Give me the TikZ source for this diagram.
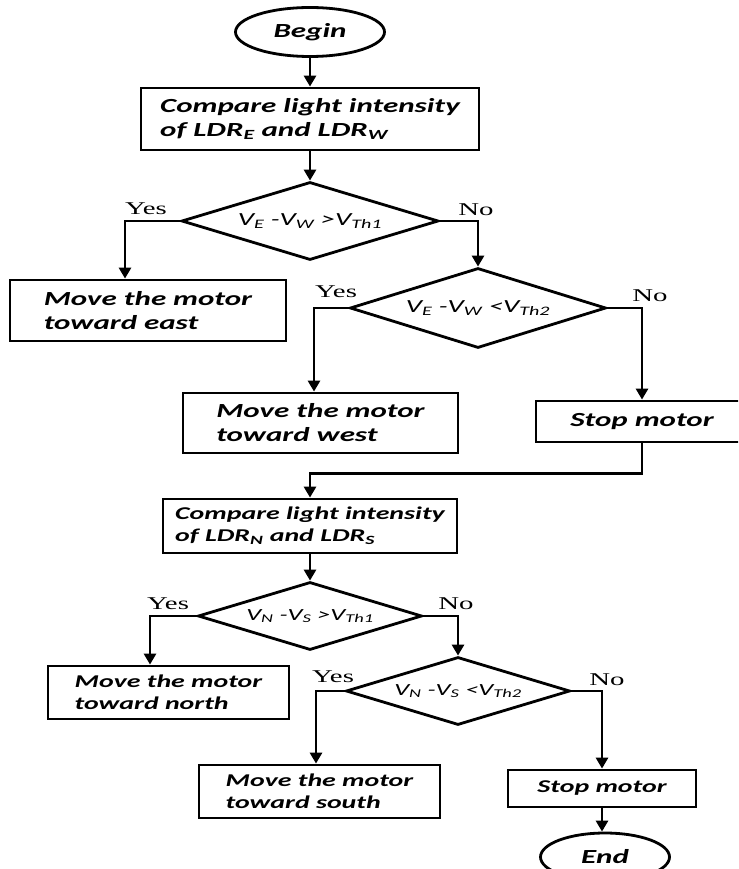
\documentclass[tikz,border=0pt]{standalone}
\usepackage{fontspec}
\setmainfont{Carlito}[FakeStretch=1.55]
\newfontfamily\ynfont{Liberation Serif}[FakeStretch=1.6]
\usetikzlibrary{shapes.geometric,arrows.meta}
\begin{document}
\begin{tikzpicture}[x=1pt,y=-1pt,line width=2.8pt,
  >={Triangle[length=11pt,width=12pt]},
  box/.style={draw,rectangle,inner sep=0pt,align=left,font=\bfseries\itshape\fontsize{20}{24}\selectfont},
  sbox/.style={draw,rectangle,inner sep=0pt,align=left,font=\bfseries\itshape\fontsize{18}{22}\selectfont},
  term/.style={draw,ellipse,inner sep=0pt,font=\bfseries\itshape\fontsize{20}{24}\selectfont},
  dia/.style={draw,diamond,aspect=3.3,inner sep=0pt,font=\itshape\fontsize{18.5}{20}\selectfont},
  sdia/.style={draw,diamond,aspect=3.3,inner sep=0pt,font=\itshape\fontsize{17}{19}\selectfont},
  yn/.style={inner sep=0pt,font=\ynfont\fontsize{18}{20}\selectfont}]
\clip (0,0) rectangle (738,869);
\fill[white] (0,0) rectangle (738,869);
% top part
\node[term,minimum width=149,minimum height=49] (begin) at (310,32) {Begin};
\node[box,minimum width=338,minimum height=62] (c1) at (310,119) {Compare light intensity\\of LDR\textsubscript{E} and LDR\textsubscript{W}};
\node[dia,minimum width=257,minimum height=78] (d1) at (310,221) {V\textsubscript{E} -V\textsubscript{W} >V\textsubscript{Th1}};
\node[box,minimum width=276,minimum height=61] (east) at (148,310.5) {Move the motor\\toward east};
\node[dia,minimum width=256,minimum height=80] (d2) at (478,308) {V\textsubscript{E} -V\textsubscript{W} <V\textsubscript{Th2}};
\node[box,minimum width=275,minimum height=60] (west) at (320.5,423) {Move the motor\\toward west};
\node[box,minimum width=212,minimum height=41] (stop1) at (642,421.5) {Stop motor};
\node[yn] (yes1) at (146,209) {Yes};
\node[yn] (no1) at (476,210) {No};
\node[yn] (yes2) at (336,292) {Yes};
\node[yn] (no2) at (650,296) {No};
% bottom part
\node[sbox,minimum width=294,minimum height=54] (c2) at (310,526) {Compare light intensity\\of LDR\textsubscript{N} and LDR\textsubscript{S}};
\node[sdia,minimum width=224,minimum height=68] (d3) at (310,616) {V\textsubscript{N} -V\textsubscript{S} >V\textsubscript{Th1}};
\node[sbox,minimum width=241,minimum height=53] (north) at (168.5,692.5) {Move the motor\\toward north};
\node[sdia,minimum width=224,minimum height=68] (d4) at (458,691) {V\textsubscript{N} -V\textsubscript{S} <V\textsubscript{Th2}};
\node[sbox,minimum width=241,minimum height=53] (south) at (319.5,791.5) {Move the motor\\toward south};
\node[sbox,minimum width=188,minimum height=37] (stop2) at (602,788.5) {Stop motor};
\node[term,minimum width=129,minimum height=48] (end) at (605,857) {End};
\node[yn] (yes3) at (168,604) {Yes};
\node[yn] (no3) at (456,604) {No};
\node[yn] (yes4) at (333,677) {Yes};
\node[yn] (no4) at (607,680) {No};
% connectors
\draw[->] (begin) -- (c1);
\draw[->] (c1) -- (d1);
\draw[->] (d1.west) -| ([xshift=-23pt]east.north);
\draw[->] (d1.east) -| (d2.north);
\draw[->] (d2.west) -| ([xshift=-6.5pt]west.north);
\draw[->] (d2.east) -| (stop1.north);
\draw[->] (stop1.south) -- ++(0,30) -| (c2.north);
\draw[->] (c2) -- (d3);
\draw[->] (d3.west) -| ([xshift=-18.5pt]north.north);
\draw[->] (d3.east) -| (d4.north);
\draw[->] (d4.west) -| ([xshift=-3.5pt]south.north);
\draw[->] (d4.east) -| (stop2.north);
\draw[->] (stop2.south) -- (stop2.south |- end.north);
\end{tikzpicture}
\end{document}
